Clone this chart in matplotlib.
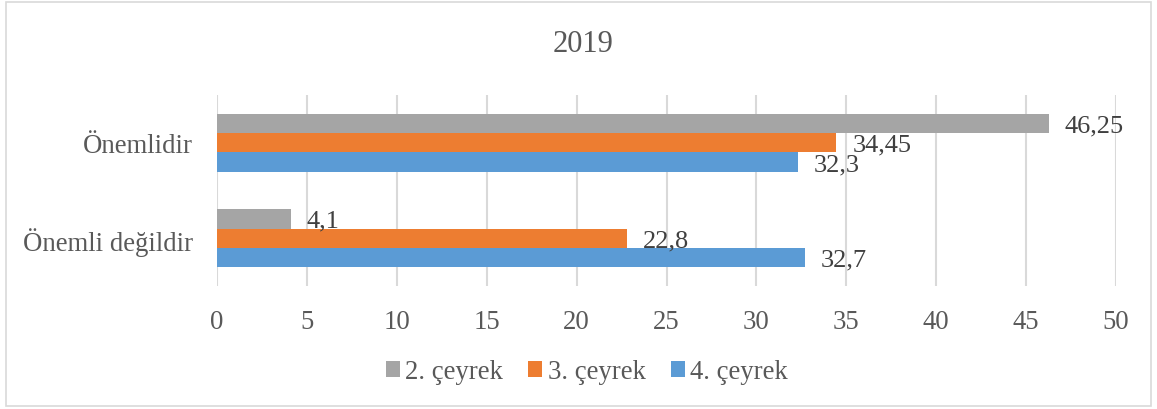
import matplotlib
matplotlib.use("Agg")
import matplotlib.pyplot as plt
from matplotlib.patches import Rectangle
import numpy as np

categories = ["Önemlidir", "Önemli değildir"]
series_names = ["2. çeyrek", "3. çeyrek", "4. çeyrek"]
q2 = [46.25, 4.1]
q3 = [34.45, 22.8]
q4 = [32.3, 32.7]
label_q2 = ["46,25", "4,1"]
label_q3 = ["34,45", "22,8"]
label_q4 = ["32,3", "32,7"]
colors = ["#A5A5A5", "#ED7D31", "#5B9BD5"]
xticks = [0, 5, 10, 15, 20, 25, 30, 35, 40, 45, 50]

plt.rcParams['font.family'] = ['Liberation Serif', 'DejaVu Serif']

fig = plt.figure(figsize=(11.57, 4.10), dpi=100)
ax = fig.add_axes([217/1157, 1-287/410, (1116-217)/1157, (287-96)/410])

y = np.arange(len(categories))
h = 0.204
values = [q2, q3, q4]
labels = [label_q2, label_q3, label_q4]
offsets = [-h, 0, h]
for vals, labs, c, off, name in zip(values, labels, colors, offsets, series_names):
    bars = ax.barh(y + off, vals, height=h, color=c, label=name, zorder=3)
    for b, lab in zip(bars, labs):
        ax.annotate(lab, (b.get_width(), b.get_y() + b.get_height()/2),
                    xytext=(11.5, -1.5), textcoords="offset points",
                    va="center", ha="left", fontsize=19, color="#404040", zorder=4)

ax.set_ylim(1.5, -0.5)
ax.set_xlim(0, 50)
ax.set_xticks(xticks)
ax.set_xticklabels([str(t) for t in xticks])
ax.set_yticks(y)
ax.set_yticklabels(categories)
ax.tick_params(axis='both', length=0, labelsize=19.3, labelcolor="#595959")
ax.tick_params(axis='x', pad=16.5)
ax.tick_params(axis='y', pad=17.5)
for s in ax.spines.values():
    s.set_visible(False)
ax.grid(axis='x', color="#D9D9D9", linewidth=1.5, zorder=0)
ax.set_axisbelow(True)

fig.text(583/1157, 1-45/410, "2019", ha="center", va="center", fontsize=22, color="#595959")

leg = fig.legend(loc="center", bbox_to_anchor=(587/1157, 1-373/410), ncol=3, frameon=False,
                 fontsize=19.3, handlelength=0.52, handleheight=0.52, handletextpad=0.2,
                 columnspacing=0.95)
for t in leg.get_texts():
    t.set_color("#595959")

fig.patches.append(Rectangle((6/1157, 3/410), 1-12/1157, 1-6/410, transform=fig.transFigure,
                             fill=False, edgecolor="#D9D9D9", linewidth=1.2))

fig.savefig("out.png", dpi=100)
